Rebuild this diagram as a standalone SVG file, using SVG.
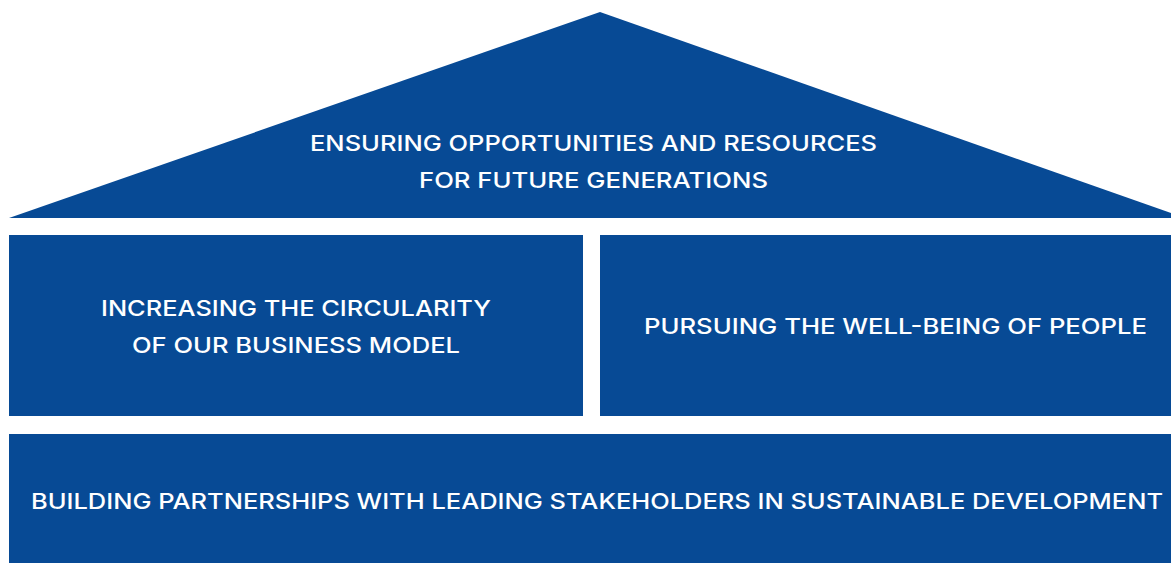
<svg xmlns="http://www.w3.org/2000/svg" width="1171" height="563" viewBox="0 0 1171 563">
<style>
.blk{fill:#074A95}
.t{fill:#ffffff;font-family:Inter,"Open Sans","Liberation Sans",sans-serif;font-size:21.5px;font-weight:500;text-anchor:middle}
</style>
<rect width="1171" height="563" fill="#ffffff"/>
<g id="roof">
<polygon class="blk" points="600,12 1171,213 1171,218 9,218"/>
<text class="t" x="593.5" y="151" textLength="567" lengthAdjust="spacingAndGlyphs">ENSURING OPPORTUNITIES AND RESOURCES</text>
<text class="t" x="593.5" y="188" textLength="349" lengthAdjust="spacingAndGlyphs">FOR FUTURE GENERATIONS</text>
</g>
<g id="circularity">
<rect class="blk" x="9" y="235" width="574" height="181"/>
<text class="t" x="296" y="316" textLength="390" lengthAdjust="spacingAndGlyphs">INCREASING THE CIRCULARITY</text>
<text class="t" x="296" y="353" textLength="328" lengthAdjust="spacingAndGlyphs">OF OUR BUSINESS MODEL</text>
</g>
<g id="wellbeing">
<rect class="blk" x="600" y="235" width="571" height="181"/>
<text class="t" x="895.5" y="334" textLength="503" lengthAdjust="spacingAndGlyphs">PURSUING THE WELL-BEING OF PEOPLE</text>
</g>
<g id="partnerships">
<rect class="blk" x="9" y="434" width="1162" height="129"/>
<text class="t" x="597" y="509" textLength="1132" lengthAdjust="spacingAndGlyphs">BUILDING PARTNERSHIPS WITH LEADING STAKEHOLDERS IN SUSTAINABLE DEVELOPMENT</text>
</g>
<g id="connectors"/>
</svg>
